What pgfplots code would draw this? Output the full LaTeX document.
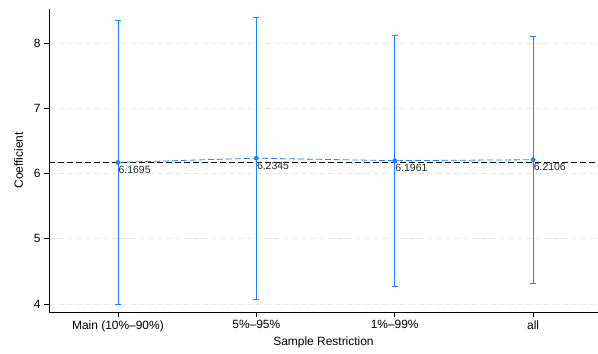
\documentclass[border=0pt]{standalone}
\usepackage{pgfplots}
\pgfplotsset{compat=1.18}
\usepackage{pgfplotstable}
\usepackage{fontspec}
\setmainfont{Liberation Sans}
\definecolor{stblue}{RGB}{26,133,255}
\definecolor{gridgray}{RGB}{234,234,234}
\pgfplotstableread{
x y lab
0 6.1695 6.1695
1 6.2345 6.2345
2 6.1961 6.1961
3 6.2106 6.2106
}\coefdata
\begin{document}
\begin{tikzpicture}
\begin{axis}[
  name=ax,
  scale only axis,
  width=549bp, height=303bp,
  xmin=-0.498, xmax=3.469,
  ymin=3.877, ymax=8.521,
  axis x line*=bottom, axis y line*=left,
  axis line style={black, line width=0.8pt},
  xtick={0,1,2,3},
  xticklabels={Main (10\%--90\%), 5\%--95\%, 1\%--99\%, all},
  ytick={4,5,6,7,8},
  tick align=outside,
  tick style={black, line width=0.6pt},
  major tick length=5bp,
  /pgf/number format/assume math mode=true,
  tick label style={font=\fontsize{12}{14}\selectfont},
  label style={font=\fontsize{12}{14}\selectfont},
  xlabel={Sample Restriction},
  ylabel={Coefficient},
  xlabel style={yshift=2bp},
  ylabel style={yshift=4bp},
  ymajorgrids,
  major grid style={gridgray, line width=0.7pt, dash pattern=on 6bp off 3bp},
  clip=false,
]
% reference line
\addplot[black, line width=0.8pt, dash pattern=on 6bp off 3bp, forget plot] coordinates {(-0.498,6.1695) (3.469,6.1695)};
% confidence intervals
\addplot[stblue, line width=0.8pt, mark=-, mark size=3bp, mark options={solid, line width=0.8pt}] coordinates {(0,3.9995) (0,8.3495)};
\addplot[stblue, line width=0.8pt, mark=-, mark size=3bp, mark options={solid, line width=0.8pt}] coordinates {(1,4.0745) (1,8.3945)};
\addplot[stblue, line width=0.8pt, mark=-, mark size=3bp, mark options={solid, line width=0.8pt}] coordinates {(2,4.2761) (2,8.1161)};
\addplot[stblue, line width=0.8pt, mark=-, mark size=3bp, mark options={solid, line width=0.8pt}] coordinates {(3,4.3206) (3,8.1006)};
% connecting dashed line
\addplot[stblue, line width=0.8pt, dash pattern=on 6bp off 3bp] table[x=x,y=y] {\coefdata};
% points with labels
\addplot[stblue, only marks, mark=*, mark size=2.2pt, point meta=explicit symbolic,
  nodes near coords, nodes near coords style={anchor=north west, font=\fontsize{10.5}{12}\selectfont, text=black!85, xshift=-1bp, yshift=-2bp, inner sep=1.5pt}]
  table[x=x, y=y, meta=lab] {\coefdata};
\end{axis}
\pgfresetboundingbox
\path ([shift={(-49bp,-42bp)}]ax.south west) rectangle ([shift={(0bp,9bp)}]ax.north east);
\end{tikzpicture}
\end{document}
